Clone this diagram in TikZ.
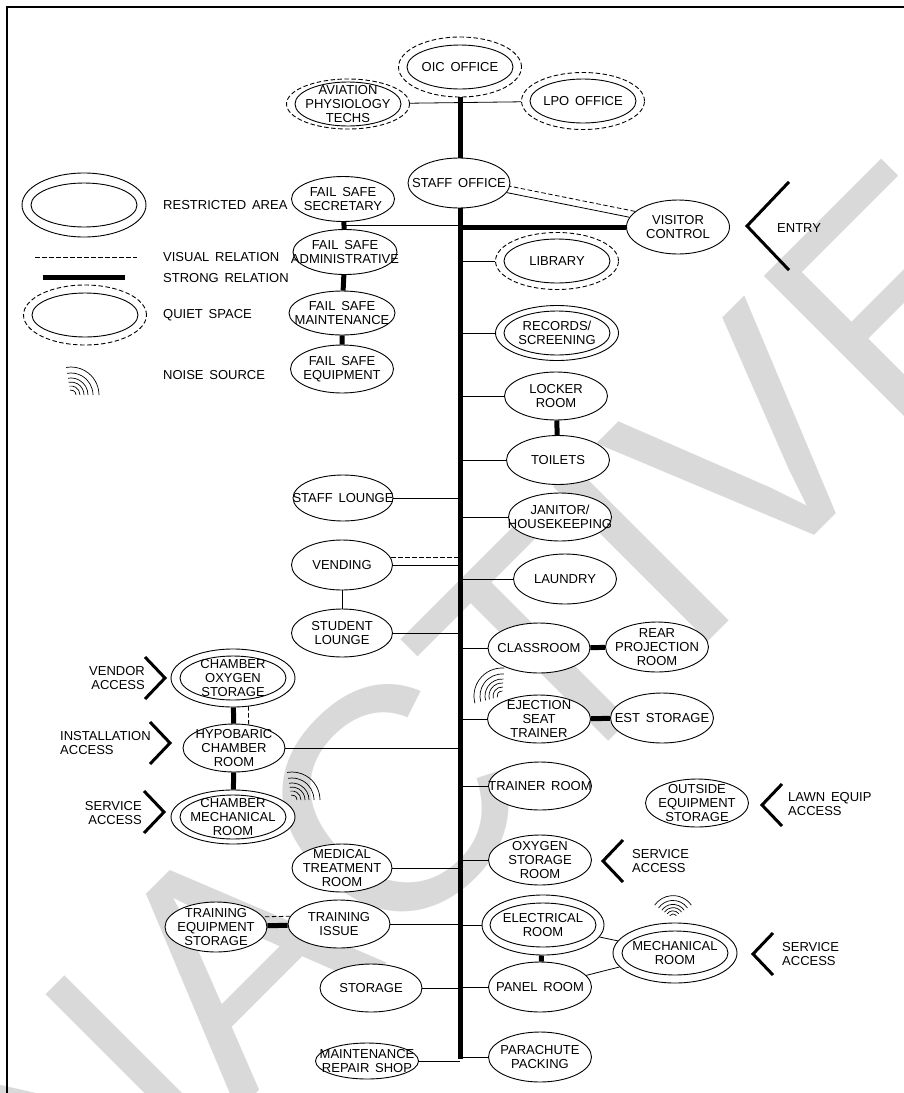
\documentclass[tikz,border=0pt]{standalone}
\usepackage{fontspec}
\setmainfont{Liberation Sans}[WordSpace=1.6]
\usetikzlibrary{shapes.geometric,calc}
\pgfdeclarelayer{mark}
\pgfdeclarelayer{lines}
\pgfsetlayers{mark,lines,main}
\tikzset{
  room/.style={ellipse, draw, line width=0.9pt, fill=white,
    inner xsep=-22pt, inner ysep=-8pt,
    minimum width=103pt, minimum height=48pt, align=center,
    font=\fontsize{13}{13.8}\selectfont},
  restricted/.style={room, minimum width=123pt, minimum height=57pt,
    path picture={\draw[solid, line width=0.9pt] (path picture bounding box.center)
      ellipse [x radius=53pt, y radius=22pt];}},
  quiet/.style={restricted, dash pattern=on 4.5pt off 2.5pt},
  link/.style={line width=0.8pt},
  strong/.style={line width=5pt},
  visual/.style={line width=0.8pt, dash pattern=on 4.5pt off 2.5pt},
  access/.style={line width=3pt},
  caption/.style={font=\fontsize{13}{14}\selectfont, inner sep=0pt},
  watermark/.style={text=gray!30, font=\fontsize{318}{318}\selectfont,
    anchor=base west, rotate=45, inner sep=0pt},
  pics/gatein/.style={code={\draw[access] (-10,-21) -- (10,0) -- (-10,21);}},
  pics/gateout/.style={code={\draw[access] (10,-21) -- (-10,0) -- (10,21);}},
  pics/noise/.style 2 args={code={
    \foreach \r in {5,9,13,17,22,28}
      \draw[line width=0.7pt] (-#1:\r) arc[start angle=-#1, end angle=-#2, radius=\r];}},
}
\begin{document}
\begin{tikzpicture}[x=1pt, y=-1pt]
  \useasboundingbox (0,0) rectangle (904,1093);
  \begin{pgfonlayer}{mark}
    \begin{scope}
      \clip (0,0) rectangle (904,1093);
      \node[watermark] (inactive) at (13,1337) {INACTIVE};
    \end{scope}
  \end{pgfonlayer}
  \draw[line width=1.3pt] (7,1093) -- (7,7) -- (904,7);

  % legend
  \node[restricted, minimum width=124pt, minimum height=64pt] (legrestricted) at (84,205) {};
  \node[quiet, minimum height=60pt] (legquiet) at (85,315) {};
  \draw[visual] (35,257) -- (137,257);
  \draw[strong] (43,277) -- (125,277);
  \pic at (71,395) {noise={0}{100}};
  \node[caption, anchor=west] (restrictedtxt) at (163,205) {RESTRICTED AREA};
  \node[caption, anchor=west] (visualtxt) at (163,257) {VISUAL RELATION};
  \node[caption, anchor=west] (strongtxt) at (163,278) {STRONG RELATION};
  \node[caption, anchor=west] (quiettxt) at (163,315) {QUIET SPACE};
  \node[caption, anchor=west] (noisetxt) at (163,375) {NOISE SOURCE};

  % rooms
  \node[quiet, minimum height=60pt] (oic) at (460,67) {OIC OFFICE};
  \node[quiet, minimum height=50pt] (apt) at (348,104) {AVIATION\\PHYSIOLOGY\\TECHS};
  \node[quiet] (lpo) at (583,101) {LPO OFFICE};
  \node[room, minimum width=102pt, minimum height=50pt] (staff) at (459,183) {STAFF OFFICE};
  \node[room, minimum height=54pt] (visitor) at (678,227) {VISITOR\\CONTROL};
  \node[room, minimum height=45pt] (secretary) at (343,199) {FAIL SAFE\\SECRETARY};
  \node[room, minimum width=104pt, minimum height=45pt] (fsadmin) at (345,252) {FAIL SAFE\\ADMINISTRATIVE};
  \node[room, minimum width=106pt, minimum height=44pt] (fsmaint) at (342,313) {FAIL SAFE\\MAINTENANCE};
  \node[room] (fsequip) at (342,369) {FAIL SAFE\\EQUIPMENT};
  \node[quiet] (library) at (557,261) {LIBRARY};
  \node[restricted, minimum height=55pt] (records) at (557,333) {RECORDS/\\SCREENING};
  \node[room] (locker) at (556,396) {LOCKER\\ROOM};
  \node[room, minimum height=49pt] (toilets) at (558,460) {TOILETS};
  \node[room] (janitor) at (560,517) {JANITOR/\\HOUSEKEEPING};
  \node[room, minimum width=100pt, minimum height=46pt] (stafflounge) at (343,498) {STAFF LOUNGE};
  \node[room, minimum width=101pt, minimum height=50pt] (vending) at (342,565) {VENDING};
  \node[room, minimum width=101pt] (studentlounge) at (342,633) {STUDENT\\LOUNGE};
  \node[room, minimum height=50pt] (laundry) at (565,579) {LAUNDRY};
  \node[room, minimum width=102pt, minimum height=50pt] (classroom) at (539,648) {CLASSROOM};
  \node[room, minimum height=50pt] (rearproj) at (657,647) {REAR\\PROJECTION\\ROOM};
  \node[room] (ejection) at (539,719) {EJECTION\\SEAT\\TRAINER};
  \node[room, minimum height=50pt] (eststorage) at (662,718) {EST STORAGE};
  \node[room] (trainerroom) at (540,786) {TRAINER ROOM};
  \node[room] (outside) at (697,803) {OUTSIDE\\EQUIPMENT\\STORAGE};
  \node[restricted, minimum width=124pt, minimum height=58pt] (oxystore) at (233,678) {CHAMBER\\OXYGEN\\STORAGE};
  \node[room, minimum width=102pt] (hypobaric) at (234,748) {HYPOBARIC\\CHAMBER\\ROOM};
  \node[restricted, minimum width=124pt, minimum height=54pt] (chambermech) at (233,817) {CHAMBER\\MECHANICAL\\ROOM};
  \node[room, minimum width=100pt] (medical) at (342,868) {MEDICAL\\TREATMENT\\ROOM};
  \node[room, minimum height=50pt] (oxygenroom) at (540,860) {OXYGEN\\STORAGE\\ROOM};
  \node[room, minimum width=102pt, minimum height=50pt] (tes) at (216,927) {TRAINING\\EQUIPMENT\\STORAGE};
  \node[room, minimum width=102pt] (issue) at (339,924) {TRAINING\\ISSUE};
  \node[restricted, minimum width=122pt, minimum height=60pt] (electrical) at (543,925) {ELECTRICAL\\ROOM};
  \node[room, minimum height=50pt] (panel) at (540,987) {PANEL ROOM};
  \node[restricted, minimum width=124pt, minimum height=60pt] (mechanical) at (675,953) {MECHANICAL\\ROOM};
  \node[room, minimum width=102pt] (storage) at (371,988) {STORAGE};
  \node[room, minimum height=36pt] (repair) at (367,1061) {MAINTENANCE\\REPAIR SHOP};
  \node[room, minimum height=50pt] (parachute) at (540,1057) {PARACHUTE\\PACKING};

  % accesses
  \pic[scale=2.1] at (768,226) {gateout};
  \node[caption, anchor=west] (entrytxt) at (777,228) {ENTRY};
  \pic at (772,805) {gateout};
  \node[caption, anchor=west, align=left] (lawntxt) at (788,804) {LAWN EQUIP\\ACCESS};
  \pic at (613,861) {gateout};
  \node[caption, anchor=west, align=left] (oxyservicetxt) at (632,861) {SERVICE\\ACCESS};
  \pic at (763,954) {gateout};
  \node[caption, anchor=west, align=left] (mechservicetxt) at (782,954) {SERVICE\\ACCESS};
  \pic at (155,678) {gatein};
  \node[caption, anchor=east, align=right] (vendortxt) at (145,678) {VENDOR\\ACCESS};
  \pic at (160,743) {gatein};
  \node[caption, anchor=west, align=left] (installtxt) at (60,743) {INSTALLATION\\ACCESS};
  \pic at (154,812) {gatein};
  \node[caption, anchor=east, align=right] (chambservicetxt) at (142,813) {SERVICE\\ACCESS};

  % noise
  \pic at (292,800) {noise={0}{100}};
  \pic at (502,696) {noise={85}{195}};
  \pic[scale=0.8] at (673,918) {noise={35}{145}};

  \begin{pgfonlayer}{lines}
    \coordinate (spinebot) at (460,1059);
    \draw[strong] (oic.south) -- (spinebot);
    \draw[link] (apt) -- (lpo);
    \draw[link] (staff) -- (visitor);
    \draw[visual] ([yshift=7pt]staff.center) -- ([yshift=7pt]visitor.center);
    \draw[strong] (visitor) -- (visitor -| spinebot);
    \draw[strong] (secretary) -- (fsadmin) -- (fsmaint) -- (fsequip);
    \coordinate (fsjoin) at ($(secretary.south)!0.5!(fsadmin.north)$);
    \draw[link] (fsjoin) -- (fsjoin -| spinebot);
    \foreach \n in {library,records,locker,toilets,janitor,laundry,classroom,ejection,
      trainerroom,oxygenroom,electrical,panel,parachute,stafflounge,vending,
      studentlounge,hypobaric,medical,issue,storage,repair}
      \draw[link] (\n) -- (\n -| spinebot);
    \coordinate (vendtop) at ([yshift=8pt]vending.center);
    \draw[visual] (vendtop) -- (vendtop -| spinebot);
    \draw[link] (vending) -- (studentlounge);
    \draw[strong] (locker) -- (toilets);
    \draw[strong] (classroom) -- (rearproj);
    \draw[strong] (ejection) -- (eststorage);
    \draw[strong] (oxystore) -- (hypobaric) -- (chambermech);
    \draw[visual] ([xshift=15pt]oxystore.center) -- ([xshift=15pt]hypobaric.center);
    \draw[strong] (tes) -- (issue);
    \draw[visual] ([yshift=9pt]tes.center) -- ([yshift=9pt]issue.center);
    \draw[strong] (electrical) -- (panel);
    \draw[link] (electrical) -- (mechanical);
    \draw[link] (panel) -- (mechanical);
  \end{pgfonlayer}
\end{tikzpicture}
\end{document}
